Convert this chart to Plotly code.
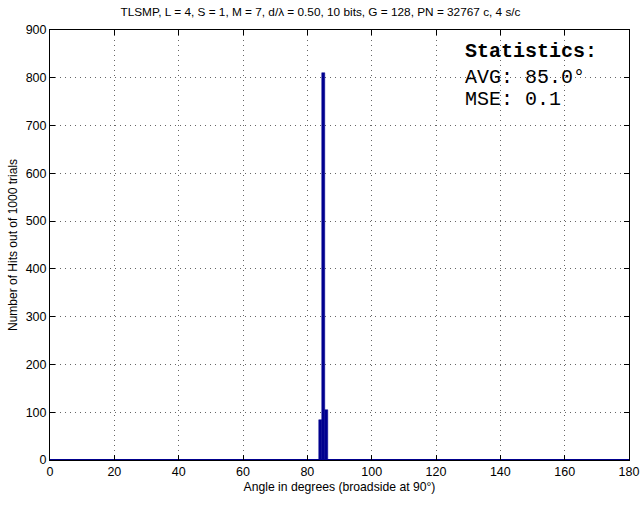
import plotly.graph_objects as go

# Data
angles = list(range(0, 181))
hit_angles = [84, 85, 86]
hit_counts = [83, 810, 105]
counts = [hit_counts[hit_angles.index(a)] if a in hit_angles else 0 for a in angles]

title_text = "TLSMP, L = 4, S = 1, M = 7, d/λ = 0.50, 10 bits, G = 128, PN = 32767 c, 4 s/c"
stats_lines = ["<b>Statistics:</b>", "AVG: 85.0°", "MSE: 0.1"]
x_ticks = list(range(0, 181, 20))
y_ticks = list(range(0, 901, 100))

bar_color = "rgb(0,0,143)"

fig = go.Figure()
fig.add_trace(go.Bar(
    x=angles, y=counts, width=1.0,
    marker=dict(color=bar_color, line=dict(color=bar_color, width=0.5)),
    showlegend=False,
))

axis_common = dict(
    showline=True, linecolor="black", linewidth=1, mirror="ticks",
    ticks="inside", ticklen=5, tickcolor="black",
    showgrid=True, gridcolor="#666", griddash="1px,4px", gridwidth=1,
    tickfont=dict(family="Liberation Sans, Arial", size=12.5, color="black"),
)

fig.update_layout(
    width=641, height=525,
    margin=dict(l=50, r=12, t=30, b=65, autoexpand=False),
    plot_bgcolor="white", paper_bgcolor="white",
    bargap=0,
    title=dict(text=title_text, x=0.5, xanchor="center", y=0.977, yanchor="middle",
               font=dict(family="Liberation Sans, Arial", size=11.8, color="black")),
    xaxis=dict(range=[0, 180], tickvals=x_ticks, zeroline=False,
               title=dict(text="Angle in degrees (broadside at 90°)", standoff=4,
                          font=dict(family="Liberation Sans, Arial", size=12.2, color="black")),
               **axis_common),
    yaxis=dict(range=[0, 900], tickvals=y_ticks,
               zeroline=True, zerolinecolor=bar_color, zerolinewidth=2,
               title=dict(text="Number of Hits out of 1000 trials", standoff=5,
                          font=dict(family="Liberation Sans, Arial", size=12, color="black")),
               **axis_common),
)

ys = [0.949, 0.89, 0.838]
for line, yy in zip(stats_lines, ys):
    fig.add_annotation(
        text=line, xref="paper", yref="paper", x=0.713, y=yy,
        xanchor="left", yanchor="middle", showarrow=False,
        font=dict(family="Liberation Mono, Courier New, monospace", size=20, color="black"),
    )

fig.write_html("out.html", config={"displayModeBar": False},
               post_script="document.body.style.margin='0';document.body.style.overflow='hidden';")
